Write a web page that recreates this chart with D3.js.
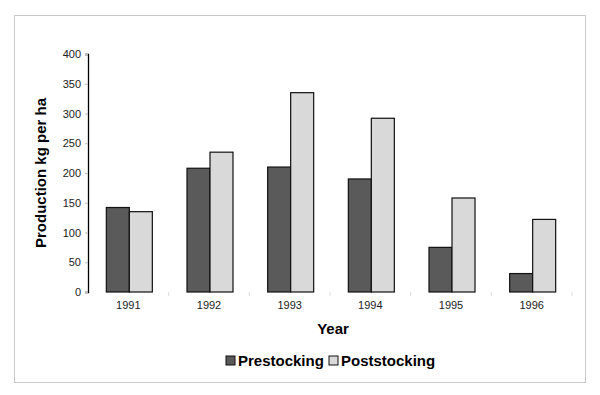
<!DOCTYPE html>
<html>
<head>
<meta charset="utf-8">
<script src="https://cdn.jsdelivr.net/npm/d3@7"></script>
<style>
body{margin:0;background:#fff;}
svg{font-family:"Liberation Sans",Arial,sans-serif;}
</style>
</head>
<body>
<div id="chart"></div>
<script>
var years = ["1991","1992","1993","1994","1995","1996"];
var prestocking = [142,208,210,190,75,31];
var poststocking = [135,235,335,292,158,122];
var seriesNames = ["Prestocking","Poststocking"];
var seriesColors = ["#5a5a5a","#d9d9d9"];
var yTicks = [0,50,100,150,200,250,300,350,400];

var W=600,H=395;
var svg=d3.select("#chart").append("svg").attr("width",W).attr("height",H);

// outer frame
svg.append("rect").attr("x",14.5).attr("y",15.5).attr("width",571).attr("height",367)
  .attr("fill","none").attr("stroke","#c8c8c8").attr("stroke-width",1);

var x0=d3.scaleBand().domain(years).range([88,572]);
var x1=d3.scaleBand().domain(seriesNames).range([0,46]);
var y=d3.scaleLinear().domain([0,400]).range([292,54]);

var rows=years.map(function(yr,i){return {year:yr,values:[prestocking[i],poststocking[i]]};});

// y axis
var yAxis=svg.append("g").attr("transform","translate(88,0)")
  .call(d3.axisLeft(y).tickValues(yTicks).tickSize(3).tickPadding(4));
yAxis.select(".domain").attr("stroke","#000").attr("stroke-width",1.3);
yAxis.selectAll(".tick line").attr("stroke","#bbb");
yAxis.selectAll("text").attr("font-size",11).attr("fill","#222");

// x axis (faint ticks, no line)
var xAxis=svg.append("g").attr("transform","translate(0,292)")
  .call(d3.axisBottom(x0).tickSize(0).tickPadding(9));
xAxis.select(".domain").remove();
xAxis.selectAll("text").attr("font-size",11).attr("fill","#222");
years.forEach(function(yr){
  svg.append("line").attr("x1",x0(yr)+x0.bandwidth()).attr("x2",x0(yr)+x0.bandwidth())
    .attr("y1",292).attr("y2",296).attr("stroke","#ddd");
});

// bars
var groups=svg.selectAll(".grp").data(rows).enter().append("g")
  .attr("transform",function(d){return "translate("+(x0(d.year)+(x0.bandwidth()-46)/2+1)+",0)";});
groups.selectAll("rect").data(function(d){return d.values.map(function(v,i){return {v:v,i:i};});})
  .enter().append("rect")
  .attr("x",function(d){return x1(seriesNames[d.i]);})
  .attr("width",x1.bandwidth())
  .attr("y",function(d){return y(d.v);})
  .attr("height",function(d){return 292-y(d.v);})
  .attr("fill",function(d){return seriesColors[d.i];})
  .attr("stroke","#111").attr("stroke-width",1.2);

// axis titles
svg.append("text").attr("transform","translate(46,173) rotate(-90)")
  .attr("text-anchor","middle").attr("font-size",15).attr("font-weight","bold").text("Production kg per ha");
svg.append("text").attr("x",333).attr("y",334).attr("text-anchor","middle")
  .attr("font-size",15).attr("font-weight","bold").text("Year");

// legend
var leg=svg.append("g").attr("transform","translate(226,356)");
var lx=[0,103];
seriesNames.forEach(function(n,i){
  leg.append("rect").attr("x",lx[i]).attr("y",0).attr("width",9).attr("height",9)
    .attr("fill",seriesColors[i]).attr("stroke","#111").attr("stroke-width",1);
  leg.append("text").attr("x",lx[i]+12).attr("y",10).attr("font-size",15)
    .attr("font-weight","bold").text(n);
});
</script>
</body>
</html>
